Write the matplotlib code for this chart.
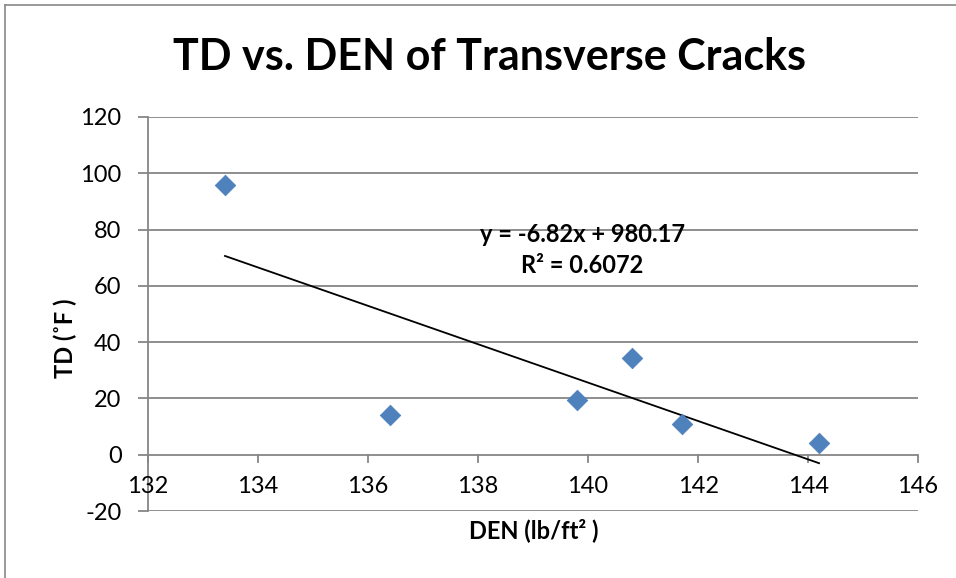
import matplotlib.pyplot as plt
from matplotlib.lines import Line2D
import numpy as np

# data
den = [133.4, 136.4, 139.8, 140.8, 141.7, 144.2]
td = [96, 14, 19.5, 34.5, 11, 4]
x_ticks = [132, 134, 136, 138, 140, 142, 144, 146]
y_ticks = [-20, 0, 20, 40, 60, 80, 100, 120]

plt.rcParams['font.family'] = ['Lato', 'DejaVu Sans']

fig = plt.figure(figsize=(9.56, 5.78), dpi=100)
ax = fig.add_axes([0.1548, 0.1159, 0.8055, 0.6817])

grid_c = '#868686'
for yv in y_ticks:
    ax.axhline(yv, color=grid_c, linewidth=1.3, zorder=1)

ax.scatter(den, td, marker='D', s=110, color='#4F81BD', edgecolor='#4A7EBB', linewidth=0.5, zorder=3)

slope, icpt = np.polyfit(den, td, 1)
xs = np.array([min(den), max(den)])
ax.plot(xs, slope * xs + icpt, color='black', linewidth=1.3, zorder=2)

ax.set_xlim(x_ticks[0], x_ticks[-1])
ax.set_ylim(y_ticks[0], y_ticks[-1])
for s in ['top', 'right', 'bottom']:
    ax.spines[s].set_visible(False)
ax.spines['left'].set_color(grid_c)
ax.spines['left'].set_linewidth(1.3)

# y ticks outward on left, hyphen minus like Excel
ax.set_yticks(y_ticks)
ax.set_yticklabels([str(v) for v in y_ticks])
ax.tick_params(axis='y', direction='out', length=7, width=1.3, color=grid_c, labelsize=17, pad=12)
# x axis crosses at y=0: draw ticks by hand on that line
ax.set_xticks([])
for xv in x_ticks:
    ax.plot([xv, xv], [0, -2.6], color=grid_c, linewidth=1.3, clip_on=False, zorder=1)
    ax.text(xv, -11.4, str(xv), ha='center', va='center', fontsize=17)

ax.text(139.9, 72.8, 'y = -6.82x + 980.17\nR² = 0.6072', ha='center', va='center',
        fontsize=17, fontweight='bold', linespacing=1.45)

fig.text(0.512, 0.902, 'TD vs. DEN of Transverse Cracks', ha='center', va='center',
         fontsize=31, fontweight='bold')
fig.text(0.558, 0.083, 'DEN (lb/ft² )', ha='center', va='center', fontsize=17, fontweight='bold')
fig.text(0.068, 0.415, 'TD (˚F )', ha='center', va='center', rotation=90, fontsize=17, fontweight='bold')

# chart border (left and top visible)
fig.add_artist(Line2D([0.0055, 0.0055], [0, 0.992], color='#888888', linewidth=1.2))
fig.add_artist(Line2D([0.0055, 1.0], [0.992, 0.992], color='#888888', linewidth=1.2))

fig.savefig('out.png', dpi=100)
